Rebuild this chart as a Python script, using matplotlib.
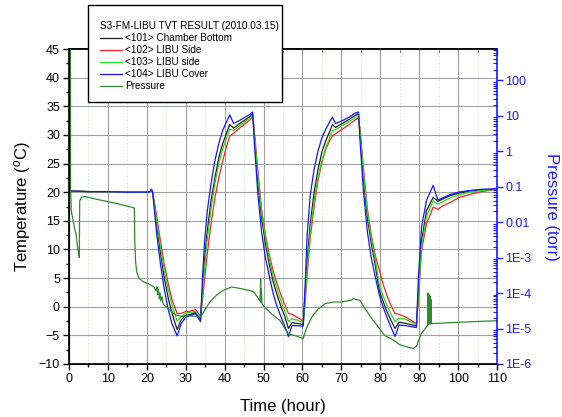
import matplotlib
matplotlib.use("Agg")
import matplotlib.pyplot as plt
import matplotlib.ticker as mticker
from matplotlib.lines import Line2D
from matplotlib.patches import Rectangle

plt.rcParams["font.family"] = ["Liberation Sans", "DejaVu Sans"]
plt.rcParams["mathtext.fontset"] = "custom"
plt.rcParams["mathtext.rm"] = "Liberation Sans"
plt.rcParams["mathtext.it"] = "Liberation Sans:italic"

# thermocouple readings (hour, degC)
t_temp = [0, 0.4, 1, 5, 10, 15, 20, 20.8, 21.2, 21.5,
          22.5, 23.5, 24.5, 25.5, 26.5, 27.8,
          28.8, 30, 31, 32.5, 33.8,
          34.3, 34.8, 35.5, 36.5, 37.5, 38.5, 39.5, 40.5, 41.3, 42.3, 43.5, 45, 46.5, 47.2,
          47.6, 48.5, 49.5, 50.5, 51.5, 52.5, 53.5, 54.5, 55.5, 56.4,
          57.3, 58.5,
          60.2, 60.7, 61.2, 62, 63, 64, 65, 66, 67, 67.7, 68.5, 70, 72, 73.5, 74.4,
          74.8, 75.7, 76.7, 77.7, 78.7, 79.7, 80.7, 81.7, 82.7, 83.8,
          84.8, 86.5, 88.9,
          89.3, 89.8, 90.6, 91.9, 93.6, 94.8, 96, 98, 100, 103, 106, 110]

temp_101 = [19.8, 20.2, 20.2, 20.1, 20.1, 20.0, 20.0, 20.1, 20.4, 20.0,
            14.5, 9.5, 5.0, 1.5, -1.2, -4.0,
            -2.3, -1.5, -1.4, -1.0, -2.2,
            3.0, 8.0, 13.0, 18.5, 22.5, 26.0, 28.5, 30.3, 31.8, 31.2, 31.8, 32.5, 33.2, 33.7,
            30.0, 22.0, 15.5, 11.0, 7.3, 4.3, 2.0, 0.0, -1.8, -3.8,
            -2.8, -2.9,
            -3.1, 2.5, 8.0, 14.5, 20.0, 24.0, 27.0, 29.0, 30.6, 31.8, 31.3, 31.9, 32.7, 33.4, 33.7,
            30.0, 22.0, 15.5, 11.0, 7.3, 3.0, 1.0, -0.8, -2.3, -3.8,
            -2.7, -2.9, -3.3,
            -3.3, 3.0, 11.5, 16.8, 19.1, 18.4, 18.8, 19.4, 19.8, 20.2, 20.4, 20.6]

temp_102 = [19.5, 20.2, 20.2, 20.1, 20.1, 20.0, 20.0, 20.1, 20.4, 20.0,
            16.0, 11.5, 7.3, 4.0, 1.2, -1.2,
            -1.2, -0.8, -0.8, -0.5, -1.6,
            1.0, 4.5, 9.0, 14.5, 19.0, 22.5, 25.5, 28.0, 29.8, 30.3, 31.0, 31.8, 32.6, 33.2,
            31.0, 24.0, 17.0, 12.5, 9.0, 6.2, 4.0, 2.0, 0.3, -1.2,
            -1.3, -1.8,
            -2.5, 1.0, 5.5, 12.0, 17.5, 22.0, 25.2, 27.5, 29.0, 29.8, 30.2, 30.9, 31.8, 32.6, 33.0,
            31.0, 24.0, 17.0, 12.5, 9.0, 6.5, 4.0, 2.0, 0.3, -1.2,
            -1.3, -1.8, -2.8,
            -2.8, 1.0, 9.8, 14.5, 17.4, 17.0, 17.6, 18.2, 19.0, 19.6, 20.1, 20.5]

temp_103 = [19.8, 20.2, 20.2, 20.1, 20.1, 20.0, 20.0, 20.1, 20.4, 20.0,
            15.0, 10.5, 6.3, 3.0, 0.2, -2.5,
            -1.8, -1.1, -1.0, -0.8, -1.9,
            2.0, 6.5, 11.5, 17.0, 21.5, 25.0, 27.5, 29.5, 31.0, 30.8, 31.4, 32.2, 33.0, 33.4,
            30.5, 23.0, 16.5, 12.0, 8.3, 5.3, 3.0, 1.0, -0.8, -2.6,
            -2.1, -2.3,
            -2.8, 1.5, 6.5, 13.0, 18.5, 22.5, 25.5, 27.8, 29.5, 30.8, 30.9, 31.5, 32.3, 33.0, 33.4,
            30.5, 23.0, 16.5, 12.0, 8.3, 4.0, 2.0, 0.3, -1.2, -2.6,
            -2.0, -2.2, -3.0,
            -3.0, 2.0, 10.5, 15.8, 18.5, 17.9, 18.3, 19.0, 19.5, 20.0, 20.3, 20.5]

temp_104 = [20.0, 20.2, 20.2, 20.1, 20.1, 20.0, 20.0, 20.1, 20.5, 20.0,
            13.0, 7.5, 3.0, -0.5, -3.0, -5.1,
            -3.0, -1.8, -1.6, -1.2, -2.6,
            5.0, 11.0, 16.5, 21.5, 25.5, 28.5, 30.8, 32.3, 33.5, 32.0, 32.4, 33.0, 33.6, 34.0,
            29.0, 20.0, 13.0, 8.5, 5.3, 2.2, 0.0, -1.8, -3.5, -5.2,
            -3.3, -3.3,
            -3.4, 4.0, 12.5, 19.5, 24.0, 27.2, 29.5, 31.0, 32.3, 33.1, 32.0, 32.4, 33.1, 33.8, 34.0,
            29.0, 20.0, 13.0, 8.5, 5.3, 2.2, 0.0, -1.8, -3.5, -5.2,
            -3.2, -3.3, -3.6,
            -3.6, 5.0, 13.9, 18.6, 21.2, 18.6, 19.0, 19.6, 20.0, 20.3, 20.5, 20.6]

# chamber pressure (hour, torr)
t_press = [0.35, 0.4, 0.6, 1.0, 1.4, 1.8, 2.2, 2.5, 2.65, 2.75, 3.2, 3.9, 8, 12, 16.8,
           16.9, 17.1, 17.4, 17.9, 19, 20.5, 21.8, 22.4, 22.6, 22.8, 23.0, 23.2, 23.4,
           23.6, 23.9, 24.2, 24.9, 26, 27.5, 29, 31, 33.7, 34.3, 35, 36.2, 38, 39.7,
           41.8, 44, 46, 47.4, 48.3, 49.1, 49.25, 49.35, 49.45, 49.6, 50.5, 52, 54.2,
           56.4, 58.1, 60.2, 61, 62.4, 64, 65.8, 68, 70.1, 72.6, 73, 73.6, 74.8, 76.1,
           78, 81.2, 83, 85, 87, 88.5, 89.3, 90.6, 91.9, 92.2, 92.3, 92.4, 92.55, 92.65,
           92.8, 92.9, 93.05, 93.15, 93.6, 100, 105, 110]
pressure = [760, 0.09, 0.02, 0.012, 0.007, 0.0045, 0.002, 0.0012, 0.001, 0.04, 0.05,
            0.053, 0.042, 0.034, 0.025,
            3e-3, 8e-4, 4e-4, 2.7e-4, 2.1e-4, 1.8e-4, 1.5e-4, 1.15e-4, 1.5e-4, 9e-5,
            1.3e-4, 7e-5, 1.0e-4,
            6e-5, 8e-5, 5e-5, 4.1e-5, 3.2e-5, 2.4e-5, 2.2e-5, 2.3e-5, 2.1e-5, 2.5e-5,
            3.5e-5, 5.6e-5, 8.9e-5, 1.2e-4,
            1.48e-4, 1.35e-4, 1.2e-4, 1.1e-4, 8e-5, 6e-5, 2.5e-4, 5.5e-5, 1.3e-4,
            5e-5, 3.8e-5, 2.6e-5, 1.7e-5,
            7e-6, 6.3e-6, 5.2e-6, 1e-5, 2.1e-5, 3.5e-5, 5e-5, 5.6e-5, 5.6e-5, 6.3e-5,
            7e-5, 6.6e-5, 6.3e-5, 3.6e-5,
            1.8e-5, 6.3e-6, 5e-6, 3.5e-6, 3e-6, 2.75e-6, 3.2e-6, 7.4e-6, 1.12e-5,
            1.26e-5, 1e-4, 1.3e-5, 9e-5, 1.35e-5,
            8e-5, 1.35e-5, 6.5e-5, 1.38e-5, 1.38e-5, 1.5e-5, 1.58e-5, 1.66e-5]

press_ticks = [1e-6, 1e-5, 1e-4, 1e-3, 0.01, 0.1, 1, 10, 100]
press_labels = ["1E-6", "1E-5", "1E-4", "1E-3", "0.01", "0.1", "1", "10", "100"]

series = [
    (temp_101, "<101> Chamber Bottom", "#202020"),
    (temp_102, "<102> LIBU Side", "#ff2020"),
    (temp_103, "<103> LIBU side", "#22dd22"),
    (temp_104, "<104> LIBU Cover", "#1515ff"),
]
press_color = "#2e8b2e"
axis_blue = "#1a1aff"

fig = plt.figure(figsize=(5.62, 4.17), dpi=100)
ax = fig.add_axes([69 / 562, 1 - 364 / 417, 428 / 562, 315 / 417])

for vals, lab, col in series:
    ax.plot(t_temp, vals, color=col, lw=0.9)

ax.set_xlim(0, 110)
ax.set_ylim(-10, 45)
ax.set_xticks(range(0, 111, 10))
ax.set_yticks(range(-10, 46, 5))
ax.xaxis.set_minor_locator(mticker.MultipleLocator(5))
ax.yaxis.set_minor_locator(mticker.MultipleLocator(2.5))
ax.grid(which="major", color="#a0a0a0", lw=0.8)
ax.grid(which="minor", axis="x", color="#c8ecc8", lw=0.6, ls=(0, (2, 2)))
ax.set_axisbelow(True)
ax.tick_params(which="major", direction="out", length=4.5, width=1, labelsize=9, pad=2)
ax.tick_params(which="minor", direction="out", length=2.5, width=1)
ax.spines["right"].set_visible(False)
for s in ("left", "bottom", "top"):
    ax.spines[s].set_linewidth(1.2)

top = ax.secondary_xaxis("top")
top.set_xticks(range(0, 111, 10))
top.xaxis.set_minor_locator(mticker.MultipleLocator(5))
top.tick_params(which="major", direction="in", length=4, labeltop=False)
top.tick_params(which="minor", direction="in", length=2.5)
top.spines["top"].set_linewidth(1.2)

ax.set_xlabel("Time (hour)", fontsize=12, labelpad=10)
ax.set_ylabel("Temperature ($^{o}$C)", fontsize=12, labelpad=4)

# pressure on log axis
ax2 = ax.twinx()
ax2.plot(t_press, pressure, color=press_color, lw=0.9)
ax2.set_yscale("log")
ax2.set_ylim(1e-6, 760)
ax2.yaxis.set_major_locator(mticker.FixedLocator(press_ticks))
ax2.yaxis.set_major_formatter(mticker.FixedFormatter(press_labels))
ax2.yaxis.set_minor_locator(mticker.LogLocator(base=10, subs=range(2, 10), numticks=30))
ax2.yaxis.set_minor_formatter(mticker.NullFormatter())
ax2.tick_params(axis="y", which="major", direction="out", length=4, width=1,
                colors=axis_blue, labelsize=9, pad=2)
ax2.tick_params(axis="y", which="minor", direction="in", length=3, width=0.8,
                colors=axis_blue)
ax2.spines["right"].set_color(axis_blue)
ax2.spines["right"].set_linewidth(1.2)
ax2.spines["top"].set_visible(False)
ax2.set_ylabel("Pressure (torr)", fontsize=12, color=axis_blue, rotation=270, labelpad=20)

# legend box
box = Rectangle((88 / 562, 1 - 102 / 417), 194 / 562, 97 / 417, transform=fig.transFigure,
                facecolor="white", edgecolor="black", lw=1.0, zorder=4)
fig.add_artist(box)
handles = [Line2D([], [], color=c, lw=0.9) for _, _, c in series]
handles.append(Line2D([], [], color=press_color, lw=0.9))
labels = [lab for _, lab, _ in series] + ["Pressure"]
fig.legend(handles, labels, title="S3-FM-LIBU TVT RESULT (2010.03.15)",
           loc="upper left", bbox_to_anchor=(95 / 562, 1 - 16 / 417), frameon=False,
           fontsize=7.2, title_fontsize=7.2, labelspacing=0.2, handlelength=2.2,
           handletextpad=0.3, borderpad=0, alignment="left")

fig.savefig("out.png", dpi=100)
